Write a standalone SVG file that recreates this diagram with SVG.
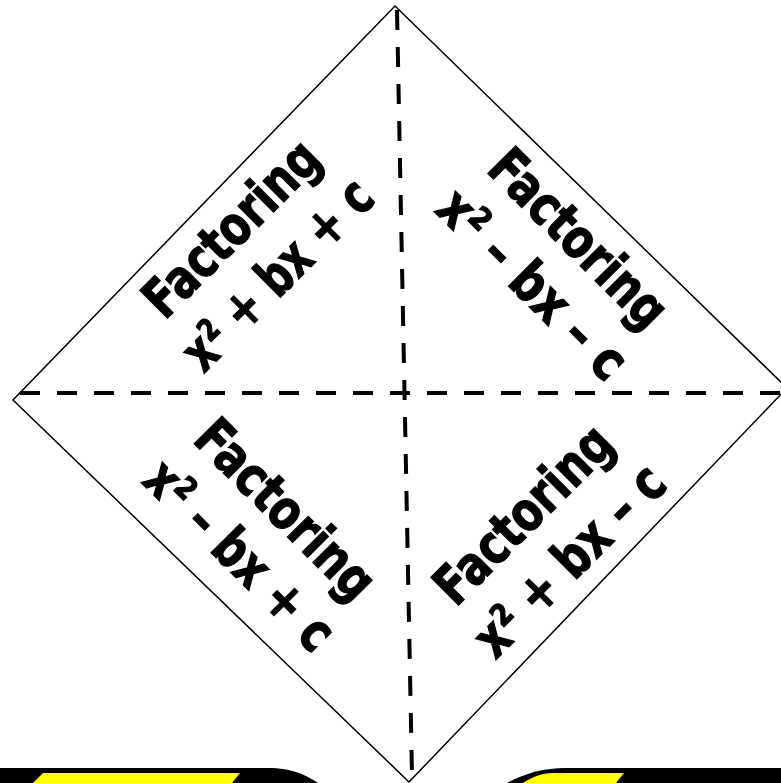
<svg xmlns="http://www.w3.org/2000/svg" width="781" height="783" viewBox="0 0 781 783">
<style>
.lbl{font-family:"DejaVu Sans Condensed","Liberation Sans Narrow","Liberation Sans",sans-serif;font-weight:bold;font-size:54px;fill:#000;stroke:#000;stroke-width:1.2;text-anchor:middle}
.dash{stroke:#000;stroke-width:4;stroke-dasharray:20 17;fill:none}
.edge{stroke:#000;stroke-width:1.5;fill:none}
</style>
<rect width="781" height="783" fill="#fff"/>
<g id="decor">
<path d="M0,768 H268 C292,768 306,775 318,783 H0 Z" fill="#000"/>
<polygon points="43,773 240,773 232,783 33,783" fill="#ff0"/>
<path d="M507,783 C525,773 545,768 565,768 H781 V783 Z" fill="#000"/>
<path d="M523,783 C532,777 542,773 553,773 H624 L616,783 Z" fill="#ff0"/>
</g>
<g id="diamond">
<polygon class="edge" points="395,6 787,388 409,782 13,400"/>
</g>
<g id="connectors">
<line class="dash" x1="397" y1="10" x2="412" y2="775"/>
<line class="dash" x1="20" y1="393" x2="781" y2="393"/>
</g>
<g id="node-tl" transform="translate(255,252) rotate(-45)">
<text class="lbl" x="0" y="-15" textLength="225" lengthAdjust="spacingAndGlyphs">Factoring</text>
<text class="lbl" x="0" y="50" textLength="245" lengthAdjust="spacingAndGlyphs">x² + bx + c</text>
</g>
<g id="node-tr" transform="translate(555,262) rotate(45)">
<text class="lbl" x="0" y="-15" textLength="228" lengthAdjust="spacingAndGlyphs">Factoring</text>
<text class="lbl" x="0" y="50" textLength="244" lengthAdjust="spacingAndGlyphs">x² – bx – c</text>
</g>
<g id="node-bl" transform="translate(262,533) rotate(45)">
<text class="lbl" x="0" y="-15" textLength="230" lengthAdjust="spacingAndGlyphs">Factoring</text>
<text class="lbl" x="0" y="50" textLength="244" lengthAdjust="spacingAndGlyphs">x² – bx + c</text>
</g>
<g id="node-br" transform="translate(547,538) rotate(-45)">
<text class="lbl" x="0" y="-15" textLength="228" lengthAdjust="spacingAndGlyphs">Factoring</text>
<text class="lbl" x="0" y="50" textLength="246" lengthAdjust="spacingAndGlyphs">x² + bx – c</text>
</g>
</svg>
